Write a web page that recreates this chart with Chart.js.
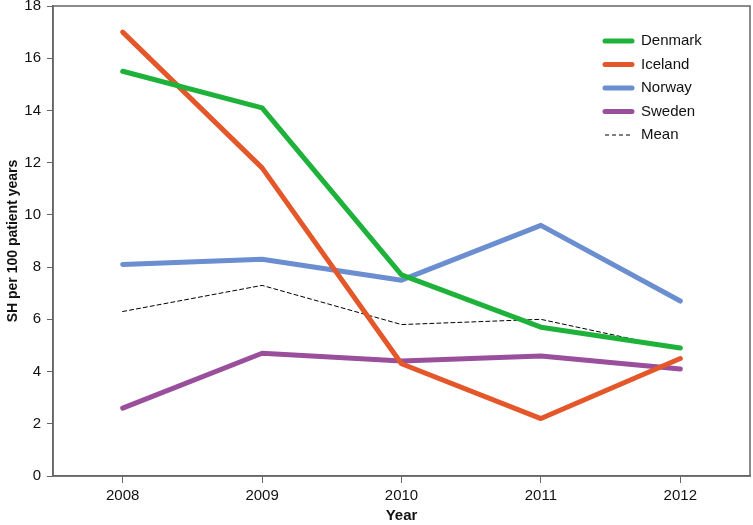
<!DOCTYPE html>
<html>
<head>
<meta charset="utf-8">
<script src="https://cdn.jsdelivr.net/npm/chart.js@4.4.1/dist/chart.umd.min.js"></script>
<style>
  html, body { margin: 0; padding: 0; background: #fff; }
  #wrap { width: 753px; height: 525px; position: relative; }
</style>
</head>
<body>
<div id="wrap"><canvas id="chart"></canvas></div>
<script>
const years = ['2008', '2009', '2010', '2011', '2012'];
const denmark = [15.5, 14.1, 7.7, 5.7, 4.9];
const iceland = [17.0, 11.8, 4.3, 2.2, 4.5];
const norway = [8.1, 8.3, 7.5, 9.6, 6.7];
const sweden = [2.6, 4.7, 4.4, 4.6, 4.1];
const mean = [6.3, 7.3, 5.8, 6.0, 4.85];
const yTicks = [0, 2, 4, 6, 8, 10, 12, 14, 16, 18];

const FONT = '"Liberation Sans", Arial, Helvetica, sans-serif';

// legend drawn inside the plot area, top right
const insideLegend = {
    id: 'insideLegend',
    afterDraw(chart) {
        const ctx = chart.ctx;
        const x0 = 605, x1 = 632, tx = 641;
        let y = 41;
        ctx.save();
        chart.data.datasets.forEach(ds => {
            ctx.beginPath();
            ctx.strokeStyle = ds.borderColor;
            ctx.lineWidth = ds.borderWidth;
            ctx.lineCap = ds.borderDash ? 'butt' : 'round';
            ctx.setLineDash(ds.borderDash || []);
            ctx.moveTo(x0, y);
            ctx.lineTo(x1, y);
            ctx.stroke();
            ctx.setLineDash([]);
            ctx.fillStyle = '#111';
            ctx.font = '15px ' + FONT;
            ctx.textBaseline = 'middle';
            ctx.fillText(ds.label, tx, y);
            y += 23.5;
        });
        // frame round the plot box
        const a = chart.chartArea;
        ctx.strokeStyle = '#666';
        ctx.lineWidth = 1.5;
        ctx.strokeRect(a.left, a.top, a.right - a.left, a.bottom - a.top);
        ctx.restore();
    }
};

new Chart(document.getElementById('chart'), {
    type: 'line',
    data: {
        labels: years,
        datasets: [
            { label: 'Denmark', data: denmark, borderColor: '#1fb23a', borderWidth: 5 },
            { label: 'Iceland', data: iceland, borderColor: '#e4572a', borderWidth: 5 },
            { label: 'Norway', data: norway, borderColor: '#6a8ed0', borderWidth: 5 },
            { label: 'Sweden', data: sweden, borderColor: '#9a4f9c', borderWidth: 5 },
            { label: 'Mean', data: mean, borderColor: '#000', borderWidth: 1, borderDash: [4, 3] }
        ].map(d => Object.assign({ pointRadius: 0, fill: false, tension: 0, borderCapStyle: 'round', borderJoinStyle: 'round' }, d))
    },
    options: {
        responsive: true,
        maintainAspectRatio: false,
        animation: false,
        layout: { padding: { top: 6, right: 3, left: 0, bottom: 0 } },
        plugins: {
            legend: { display: false },
            tooltip: { enabled: false }
        },
        scales: {
            x: {
                offset: true,
                grid: { display: true, drawOnChartArea: false, drawTicks: true, tickLength: 7, color: '#666', offset: false },
                border: { display: true, color: '#666', width: 1.5 },
                ticks: { color: '#111', font: { family: FONT, size: 15 }, padding: 4, maxRotation: 0 },
                title: { display: true, text: 'Year', color: '#111', font: { family: FONT, size: 15, weight: 'bold' }, padding: { top: 6, bottom: 0 } },
                afterFit(scale) { scale.height = 49; }
            },
            y: {
                min: 0,
                max: 18,
                afterBuildTicks(scale) { scale.ticks = yTicks.map(v => ({ value: v })); },
                grid: { display: true, drawOnChartArea: false, drawTicks: true, tickLength: 6, color: '#666' },
                border: { display: true, color: '#666', width: 1.5 },
                ticks: { color: '#111', font: { family: FONT, size: 15 }, padding: 6 },
                title: { display: true, text: 'SH per 100 patient years', color: '#111', font: { family: FONT, size: 14, weight: 'bold' }, padding: { top: 5, bottom: 0 } },
                afterFit(scale) { scale.width = 53; scale.paddingTop = 0; }
            }
        }
    },
    plugins: [insideLegend]
});
</script>
</body>
</html>
